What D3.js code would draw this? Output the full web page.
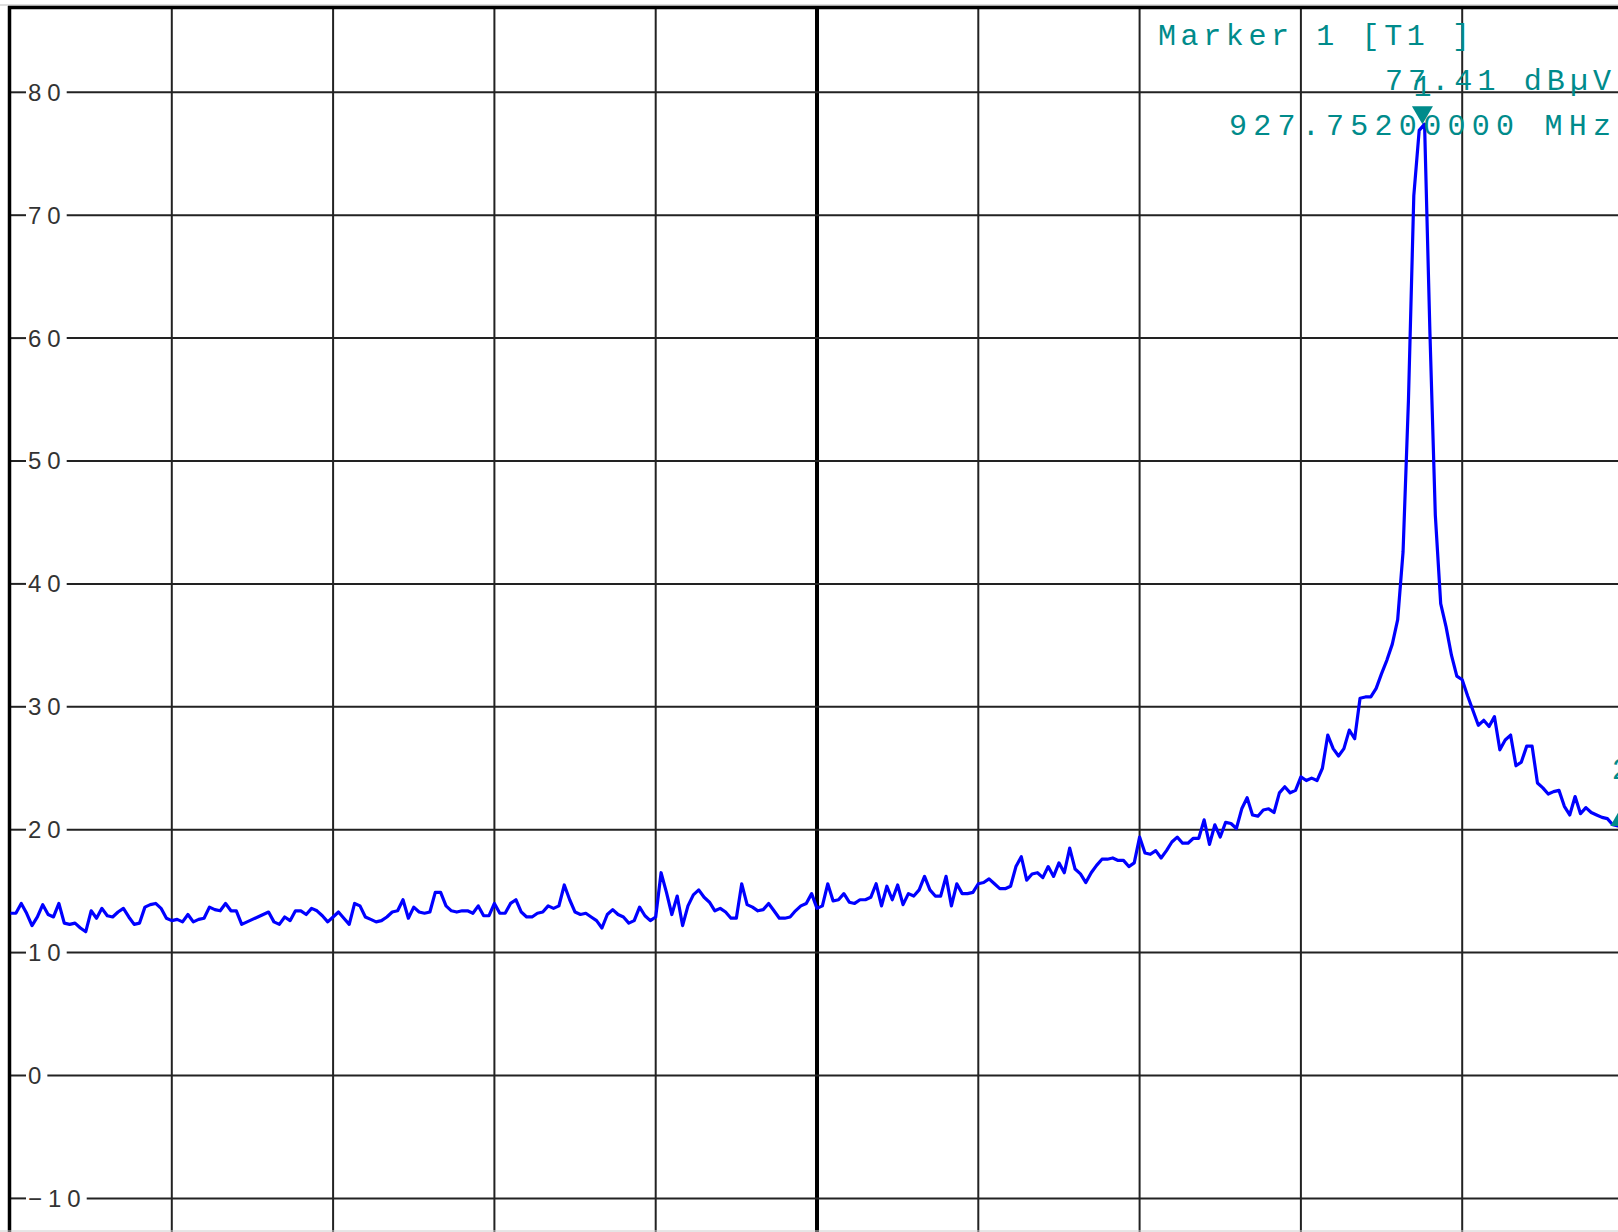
<!DOCTYPE html>
<html>
<head>
<meta charset="utf-8">
<script src="https://cdn.jsdelivr.net/npm/d3@7"></script>
<style>
  html, body { margin: 0; padding: 0; background: #fff; }
  svg { display: block; }
</style>
</head>
<body>
<div id="chart"></div>
<script>
// Sweep settings (MHz) and trace (dBµV)
const startMHz = 922.5;
const stopMHz = 928.5;
const stepMHz = 0.02;
const divMHz = 0.6;

const traceDb = [
  13.2, 13.2, 14.0, 13.2, 12.2, 12.9, 13.9, 13.1, 12.9, 14.0,
  12.4, 12.3, 12.4, 12.0, 11.7, 13.4, 12.8, 13.6, 13.0, 12.9,
  13.3, 13.6, 12.9, 12.3, 12.4, 13.7, 13.9, 14.0, 13.6, 12.8,
  12.6, 12.7, 12.5, 13.1, 12.5, 12.7, 12.8, 13.7, 13.5, 13.4,
  14.0, 13.4, 13.4, 12.3, 12.5, 12.7, 12.9, 13.1, 13.3, 12.5,
  12.3, 12.9, 12.6, 13.4, 13.4, 13.1, 13.6, 13.4, 13.0, 12.5,
  12.9, 13.3, 12.8, 12.3, 14.0, 13.8, 12.9, 12.7, 12.5, 12.6,
  12.9, 13.3, 13.4, 14.3, 12.8, 13.7, 13.3, 13.2, 13.3, 14.9,
  14.9, 13.8, 13.4, 13.3, 13.4, 13.4, 13.2, 13.8, 13.0, 13.0,
  14.0, 13.2, 13.2, 14.0, 14.3, 13.3, 12.9, 12.9, 13.2, 13.3,
  13.8, 13.6, 13.8, 15.5, 14.3, 13.3, 13.1, 13.2, 12.9, 12.6,
  12.0, 13.1, 13.5, 13.1, 12.9, 12.4, 12.6, 13.7, 13.0, 12.6,
  12.9, 16.5, 14.9, 13.1, 14.6, 12.2, 13.8, 14.7, 15.1, 14.5,
  14.1, 13.4, 13.6, 13.3, 12.8, 12.8, 15.6, 13.9, 13.7, 13.4,
  13.5, 14.0, 13.4, 12.8, 12.8, 12.9, 13.4, 13.8, 14.0, 14.8,
  13.6, 13.8, 15.6, 14.2, 14.3, 14.8, 14.1, 14.0, 14.3, 14.3,
  14.5, 15.6, 13.8, 15.4, 14.3, 15.5, 13.9, 14.8, 14.6, 15.1,
  16.2, 15.1, 14.6, 14.6, 16.2, 13.8, 15.6, 14.8, 14.8, 14.9,
  15.6, 15.7, 16.0, 15.6, 15.2, 15.2, 15.4, 17.0, 17.8, 15.9,
  16.4, 16.5, 16.1, 17.0, 16.2, 17.3, 16.5, 18.5, 16.8, 16.4,
  15.7, 16.5, 17.1, 17.6, 17.6, 17.7, 17.5, 17.5, 17.0, 17.3,
  19.4, 18.1, 18.0, 18.3, 17.7, 18.3, 19.0, 19.4, 18.9, 18.9,
  19.3, 19.3, 20.8, 18.8, 20.4, 19.4, 20.6, 20.5, 20.1, 21.7,
  22.6, 21.2, 21.1, 21.6, 21.7, 21.4, 23.0, 23.5, 23.0, 23.2,
  24.3, 24.0, 24.2, 24.0, 25.0, 27.7, 26.6, 26.0, 26.6, 28.1,
  27.4, 30.7, 30.8, 30.8, 31.5, 32.7, 33.8, 35.1, 37.1, 42.6,
  54.9, 71.6, 76.9, 77.41, 60.4, 45.6, 38.4, 36.5, 34.2, 32.5,
  32.2, 30.9, 29.7, 28.5, 28.9, 28.4, 29.2, 26.5, 27.3, 27.7,
  25.2, 25.5, 26.8, 26.8, 23.8, 23.4, 22.9, 23.1, 23.2, 21.9,
  21.2, 22.7, 21.3, 21.8, 21.4, 21.2, 21.0, 20.9, 20.4, 20.3, 20.2
];

const yTicks = [80, 70, 60, 50, 40, 30, 20, 10, 0, -10];
const markerLines = ['Marker 1 [T1 ]', '77.41 dBµV', '927.75200000 MHz'];
const marker1 = { label: '1', mhz: 927.752, db: 77.41 };
const marker2 = { label: '2', mhz: 928.49, db: 20.3 };

const width = 1618;
const height = 1232;
const teal = '#008b8b';

const svg = d3.select('#chart')
  .append('svg')
  .attr('width', width)
  .attr('height', height);

svg.append('rect')
  .attr('width', width)
  .attr('height', height)
  .attr('fill', '#fff');

const x = d3.scaleLinear()
  .domain([startMHz, stopMHz])
  .range([10.5, 1623.5]);

const y = d3.scaleLinear()
  .domain([-10, 80])
  .range([1198.4, 92.3]);

// Vertical grid (one line per division, centre one heavier)
const centreMHz = startMHz + 5 * divMHz;
const divisions = d3.range(11).map(k => startMHz + k * divMHz);
svg.append('g')
  .selectAll('line')
  .data(divisions.slice(1))
  .join('line')
  .attr('x1', d => x(d))
  .attr('x2', d => x(d))
  .attr('y1', 8)
  .attr('y2', height)
  .attr('stroke', d => Math.abs(d - centreMHz) < 1e-6 ? '#000' : '#222')
  .attr('stroke-width', d => Math.abs(d - centreMHz) < 1e-6 ? 4 : 2);

// Horizontal grid with labels sitting in a gap of the line
const yAxis = svg.append('g');
yTicks.forEach(v => {
  const yy = y(v);
  const label = yAxis.append('text')
    .attr('x', 28)
    .attr('y', yy)
    .attr('dy', '0.35em')
    .attr('font-family', 'Liberation Sans, Arial, sans-serif')
    .attr('font-size', 24)
    .attr('letter-spacing', 6)
    .attr('fill', '#333')
    .text(v < 0 ? '\u2212' + Math.abs(v) : String(v));
  const textEnd = 28 + label.node().getComputedTextLength();

  yAxis.append('line')
    .attr('x1', 10).attr('x2', 26)
    .attr('y1', yy).attr('y2', yy)
    .attr('stroke', '#222').attr('stroke-width', 2);
  yAxis.append('line')
    .attr('x1', textEnd).attr('x2', width)
    .attr('y1', yy).attr('y2', yy)
    .attr('stroke', '#222').attr('stroke-width', 2);
});

// Frame
svg.append('line')
  .attr('x1', 0).attr('x2', width)
  .attr('y1', 5).attr('y2', 5)
  .attr('stroke', '#bbb').attr('stroke-width', 1);
svg.append('line')
  .attr('x1', 8).attr('x2', width)
  .attr('y1', 7.5).attr('y2', 7.5)
  .attr('stroke', '#000').attr('stroke-width', 3.5);
svg.append('line')
  .attr('x1', 9.5).attr('x2', 9.5)
  .attr('y1', 6).attr('y2', height)
  .attr('stroke', '#000').attr('stroke-width', 3.5);
svg.append('line')
  .attr('x1', 0).attr('x2', width)
  .attr('y1', 1231).attr('y2', 1231)
  .attr('stroke', '#ccc').attr('stroke-width', 1);

// Trace
const line = d3.line()
  .x((d, i) => x(startMHz + i * stepMHz))
  .y(d => y(d));

svg.append('path')
  .datum(traceDb)
  .attr('fill', 'none')
  .attr('stroke', '#0000ff')
  .attr('stroke-width', 3.2)
  .attr('stroke-linejoin', 'round')
  .attr('d', line);

// Marker 1: downward triangle on the peak
const m1x = x(marker1.mhz);
const m1y = y(marker1.db);
svg.append('path')
  .attr('d', `M${m1x - 10.5},${m1y - 18}L${m1x + 10.5},${m1y - 18}L${m1x},${m1y}Z`)
  .attr('fill', teal);
svg.append('text')
  .attr('x', m1x)
  .attr('y', m1y - 28)
  .attr('text-anchor', 'middle')
  .attr('font-family', 'Liberation Mono, monospace')
  .attr('font-size', 30)
  .attr('fill', teal)
  .text(marker1.label);

// Marker 2: at the right edge, mostly clipped
const m2x = x(marker2.mhz);
const m2y = y(marker2.db);
svg.append('path')
  .attr('d', `M${m2x - 10.5},${m2y}L${m2x + 10.5},${m2y}L${m2x},${m2y - 18}Z`)
  .attr('fill', teal);
svg.append('text')
  .attr('x', m2x)
  .attr('y', m2y - 47)
  .attr('text-anchor', 'middle')
  .attr('font-family', 'Liberation Mono, monospace')
  .attr('font-size', 30)
  .attr('fill', teal)
  .text(marker2.label);

// Marker readout
const readout = [
  { x: 1158, y: 45, len: 312 },
  { x: 1385, y: 90, len: 226 },
  { x: 1229, y: 135, len: 382 }
];
svg.append('g')
  .selectAll('text')
  .data(markerLines)
  .join('text')
  .attr('x', (d, i) => readout[i].x)
  .attr('y', (d, i) => readout[i].y)
  .attr('textLength', (d, i) => readout[i].len)
  .attr('lengthAdjust', 'spacing')
  .attr('font-family', 'Liberation Mono, monospace')
  .attr('font-size', 30)
  .attr('fill', teal)
  .text(d => d);
</script>
</body>
</html>
